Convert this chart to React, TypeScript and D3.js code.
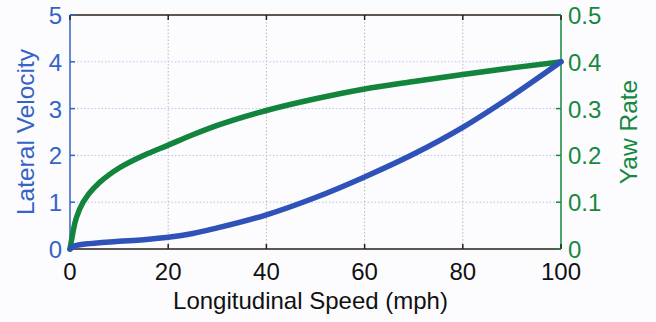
import React from "react";
import * as d3 from "d3";

const speed = [0, 1, 2, 4, 6, 8, 10, 15, 20, 25, 30, 40, 50, 60, 70, 80, 90, 100];
const lateralVelocity = [0, 0.07, 0.09, 0.115, 0.135, 0.15, 0.165, 0.2, 0.25, 0.33, 0.45, 0.73, 1.1, 1.54, 2.03, 2.6, 3.27, 4.0];
const yawRate = [0, 0.056, 0.086, 0.12, 0.142, 0.159, 0.173, 0.2, 0.222, 0.244, 0.264, 0.296, 0.321, 0.342, 0.358, 0.373, 0.387, 0.4];
const xTicks = [0, 20, 40, 60, 80, 100];
const leftTicks = [0, 1, 2, 3, 4, 5];
const rightTicks = [0, 0.1, 0.2, 0.3, 0.4, 0.5];

const W = 656;
const H = 322;
const m = { left: 70, right: 95, top: 15, bottom: 73 };
const BLUE = "#2f52b8";
const GREEN = "#13843b";
const BLUE_TXT = "#3563c6";
const GREEN_TXT = "#16893f";
const FONT = "Liberation Sans, Arial, sans-serif";

export default function App() {
  const x = d3.scaleLinear().domain([0, 100]).range([m.left, W - m.right]);
  const yL = d3.scaleLinear().domain([0, 5]).range([H - m.bottom, m.top]);
  const yR = d3.scaleLinear().domain([0, 0.5]).range([H - m.bottom, m.top]);

  const blueLine = d3
    .line<number>()
    .x((d, i) => x(speed[i]))
    .y((d) => yL(d))
    .curve(d3.curveMonotoneX);
  const greenLine = d3
    .line<number>()
    .x((d, i) => x(speed[i]))
    .y((d) => yR(d))
    .curve(d3.curveMonotoneX);

  const x0 = x(0), x1 = x(100), y0 = yL(0), y1 = yL(5);

  return (
    <svg width={W} height={H} style={{ position: "absolute", left: 0, top: 0, background: "#fcfcfe" }} fontFamily={FONT}>
      {/* grid */}
      {xTicks.slice(1, -1).map((t) => (
        <line key={"gx" + t} x1={x(t)} x2={x(t)} y1={y1} y2={y0} stroke="#b8b8b8" strokeWidth={1} strokeDasharray="1.5,2" />
      ))}
      {leftTicks.slice(1, -1).map((t) => (
        <line key={"gy" + t} x1={x0} x2={x1} y1={yL(t)} y2={yL(t)} stroke="#b5c6ee" strokeWidth={1} strokeDasharray="1.5,2" />
      ))}

      {/* frame */}
      <line x1={x0} x2={x1} y1={y1} y2={y1} stroke="#2a1f1a" strokeWidth={1.5} />
      <line x1={x0} x2={x1} y1={y0} y2={y0} stroke="#2a1f1a" strokeWidth={1.5} />
      <line x1={x0} x2={x0} y1={y1} y2={y0} stroke={BLUE_TXT} strokeWidth={1.5} />
      <line x1={x1} x2={x1} y1={y1} y2={y0} stroke={GREEN_TXT} strokeWidth={1.5} />

      {/* x ticks */}
      {xTicks.map((t) => (
        <g key={"xt" + t}>
          <line x1={x(t)} x2={x(t)} y1={y0} y2={y0 - 5} stroke="#2a1f1a" strokeWidth={1.5} />
          <line x1={x(t)} x2={x(t)} y1={y1} y2={y1 + 5} stroke="#2a1f1a" strokeWidth={1.5} />
          <text x={x(t)} y={y0 + 31} textAnchor="middle" fontSize={24} fill="#111">
            {t}
          </text>
        </g>
      ))}
      {leftTicks.map((t) => (
        <g key={"lt" + t}>
          <line x1={x0} x2={x0 + 5} y1={yL(t)} y2={yL(t)} stroke={BLUE_TXT} strokeWidth={1.5} />
          <text x={x0 - 8} y={yL(t) + 9} textAnchor="end" fontSize={24} fill={BLUE_TXT}>
            {t}
          </text>
        </g>
      ))}
      {rightTicks.map((t) => (
        <g key={"rt" + t}>
          <line x1={x1} x2={x1 - 5} y1={yR(t)} y2={yR(t)} stroke={GREEN_TXT} strokeWidth={1.5} />
          <text x={x1 + 7} y={yR(t) + 9} textAnchor="start" fontSize={24} fill={GREEN_TXT}>
            {d3.format("")(t)}
          </text>
        </g>
      ))}

      {/* series */}
      <path d={greenLine(yawRate) ?? ""} fill="none" stroke={GREEN} strokeWidth={5.5} strokeLinecap="round" />
      <path d={blueLine(lateralVelocity) ?? ""} fill="none" stroke={BLUE} strokeWidth={5.5} strokeLinecap="round" />

      {/* titles */}
      <text x={(x0 + x1) / 2 - 5} y={309} textAnchor="middle" fontSize={24} fill="#111">
        Longitudinal Speed (mph)
      </text>
      <text transform={`translate(34,${(y0 + y1) / 2}) rotate(-90)`} textAnchor="middle" fontSize={24.5} fill={BLUE_TXT}>
        Lateral Velocity
      </text>
      <text transform={`translate(637,${(y0 + y1) / 2}) rotate(-90)`} textAnchor="middle" fontSize={24.5} fill={GREEN_TXT}>
        Yaw Rate
      </text>
    </svg>
  );
}
